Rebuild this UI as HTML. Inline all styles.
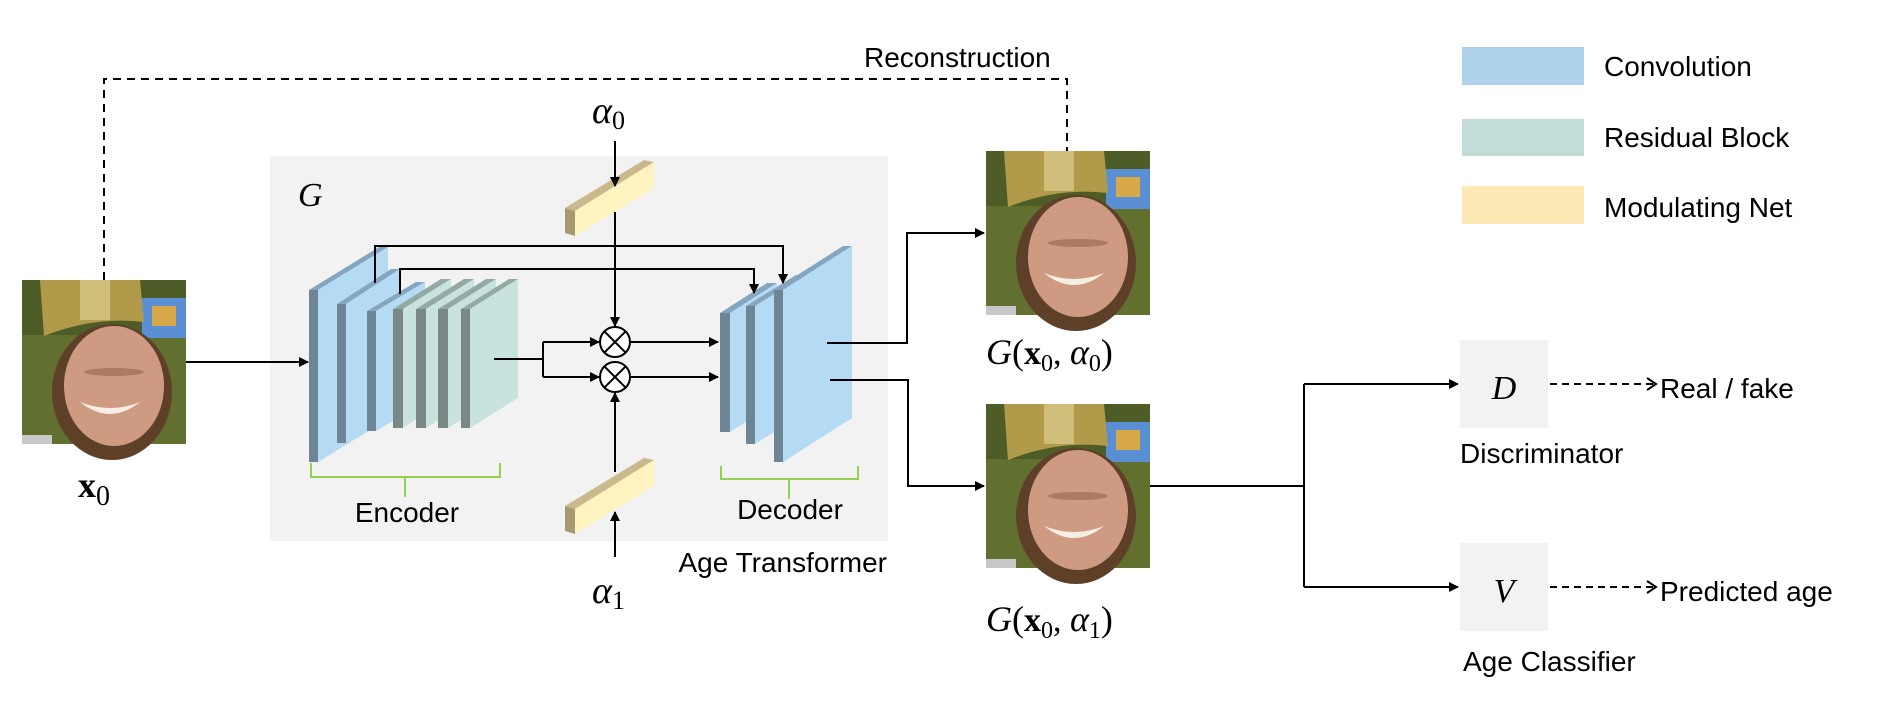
<!DOCTYPE html>
<html><head><meta charset="utf-8"><style>
html,body{margin:0;padding:0;background:#fff;}
svg{display:block;}
.t{font-family:"Liberation Sans",Arial,sans-serif;font-size:28px;fill:#000;}
.m{font-family:"Liberation Serif","DejaVu Serif",serif;font-style:italic;fill:#000;}
.mb{font-family:"Liberation Serif","DejaVu Serif",serif;font-weight:bold;fill:#000;}
.ms{font-family:"Liberation Serif","DejaVu Serif",serif;fill:#000;}
</style></head><body>
<svg width="1882" height="710" viewBox="0 0 1882 710" xmlns="http://www.w3.org/2000/svg">
<defs>
<marker id="ar" markerWidth="10" markerHeight="10" refX="9" refY="5" orient="auto" markerUnits="userSpaceOnUse">
<path d="M0,0 L10,5 L0,10 z" fill="#000"/></marker>
<g id="face">
<rect x="0" y="0" width="164" height="164" fill="#62702f"/>
<rect x="0" y="0" width="164" height="55" fill="#4e5d27"/>
<rect x="120" y="18" width="44" height="40" fill="#5a8fd3"/>
<rect x="130" y="26" width="24" height="20" fill="#d6a848"/>
<ellipse cx="90" cy="112" rx="60" ry="68" fill="#5e4029"/>
<ellipse cx="92" cy="106" rx="50" ry="60" fill="#cf9a82"/>
<path d="M18,0 L118,0 L122,42 Q72,36 22,56 z" fill="#b19a4a"/>
<rect x="58" y="0" width="30" height="40" fill="#e6dca2" opacity="0.55"/>
<path d="M58,122 Q88,146 118,122 Q88,134 58,122z" fill="#f4efe2"/>
<ellipse cx="92" cy="92" rx="30" ry="4" fill="#8a5a44" opacity="0.5"/>
<rect x="0" y="155" width="30" height="9" fill="#c8c8c8"/>
</g>
</defs>

<rect x="270" y="156" width="618" height="385" fill="#f2f2f2"/>

<path d="M104,280 V79 H1067 V151" fill="none" stroke="#000" stroke-width="2" stroke-dasharray="8,6"/>
<text class="t" x="864" y="67">Reconstruction</text>

<use href="#face" x="22" y="280"/>
<use href="#face" x="986" y="151"/>
<use href="#face" x="986" y="404"/>

<text x="78" y="497"><tspan class="mb" font-size="36">x</tspan><tspan class="ms" font-size="28" dy="8">0</tspan></text>

<line x1="186" y1="362" x2="308" y2="362" stroke="#000" stroke-width="2" marker-end="url(#ar)"/>

<text class="m" x="298" y="206" font-size="34">G</text>

<g>
<polygon points="309,290 379,247 388,247 318,290" fill="#86a5bf"/>
<polygon points="318,290 388,247 388,419 318,462" fill="#b5daf3"/>
<rect x="309" y="290" width="9" height="172" fill="#6e8595"/>

<polygon points="337,304 391,269 400,269 346,304" fill="#86a5bf"/>
<polygon points="346,304 400,269 400,408 346,443" fill="#b5daf3"/>
<rect x="337" y="304" width="9" height="139" fill="#6e8595"/>

<polygon points="367,311 416,282 425,282 376,311" fill="#86a5bf"/>
<polygon points="376,311 425,282 425,402 376,431" fill="#b5daf3"/>
<rect x="367" y="311" width="9" height="120" fill="#6e8595"/>

<polygon points="393,309 441,279 451,279 403,309" fill="#93aaa4"/>
<polygon points="403,309 451,279 451,398 403,428" fill="#c8e3dd"/>
<rect x="393" y="309" width="10" height="119" fill="#7a8886"/>

<polygon points="416,309 464,279 474,279 426,309" fill="#93aaa4"/>
<polygon points="426,309 474,279 474,398 426,428" fill="#c8e3dd"/>
<rect x="416" y="309" width="10" height="119" fill="#7a8886"/>

<polygon points="438,309 486,279 496,279 448,309" fill="#93aaa4"/>
<polygon points="448,309 496,279 496,398 448,428" fill="#c8e3dd"/>
<rect x="438" y="309" width="10" height="119" fill="#7a8886"/>

<polygon points="461,309 509,279 518,279 470,309" fill="#93aaa4"/>
<polygon points="470,309 518,279 518,398 470,428" fill="#c8e3dd"/>
<rect x="461" y="309" width="9" height="119" fill="#7a8886"/>
</g>

<g>
<polygon points="720,313 767,283 777,283 730,313" fill="#86a5bf"/>
<polygon points="730,313 777,283 777,402 730,432" fill="#b5daf3"/>
<rect x="720" y="313" width="10" height="119" fill="#6e8595"/>

<polygon points="746,306 796,275 805,275 755,306" fill="#86a5bf"/>
<polygon points="755,306 805,275 805,413 755,444" fill="#b5daf3"/>
<rect x="746" y="306" width="9" height="138" fill="#6e8595"/>

<polygon points="774,290 843,246 852,246 783,290" fill="#86a5bf"/>
<polygon points="783,290 852,246 852,418 783,462" fill="#b5daf3"/>
<rect x="774" y="290" width="9" height="172" fill="#6e8595"/>
</g>

<path d="M375,283 V246 H783 V283" fill="none" stroke="#000" stroke-width="2" marker-end="url(#ar)"/>
<path d="M400,294 V269 H754 V293" fill="none" stroke="#000" stroke-width="2" marker-end="url(#ar)"/>

<g>
<polygon points="565,208 644,160 654,162 575,211" fill="#c9b98c"/>
<polygon points="575,211 654,162 654,188 575,236" fill="#fff3c0"/>
<polygon points="565,208 575,211 575,236 565,233" fill="#a89a70"/>
</g>
<g transform="translate(0,298)">
<polygon points="565,208 644,160 654,162 575,211" fill="#c9b98c"/>
<polygon points="575,211 654,162 654,188 575,236" fill="#fff3c0"/>
<polygon points="565,208 575,211 575,236 565,233" fill="#a89a70"/>
</g>

<text x="592" y="123"><tspan class="m" font-size="38">α</tspan><tspan class="ms" font-size="26" dy="6">0</tspan></text>
<text x="592" y="603"><tspan class="m" font-size="38">α</tspan><tspan class="ms" font-size="26" dy="6">1</tspan></text>

<line x1="615" y1="141" x2="615" y2="186" stroke="#000" stroke-width="2" marker-end="url(#ar)"/>
<line x1="615" y1="212" x2="615" y2="326" stroke="#000" stroke-width="2" marker-end="url(#ar)"/>
<line x1="615" y1="557" x2="615" y2="512" stroke="#000" stroke-width="2" marker-end="url(#ar)"/>
<line x1="615" y1="472" x2="615" y2="393" stroke="#000" stroke-width="2" marker-end="url(#ar)"/>

<g stroke="#000" stroke-width="2" fill="#fff">
<circle cx="615" cy="342" r="15"/>
<circle cx="615" cy="377" r="15"/>
<line x1="604.4" y1="331.4" x2="625.6" y2="352.6"/><line x1="625.6" y1="331.4" x2="604.4" y2="352.6"/>
<line x1="604.4" y1="366.4" x2="625.6" y2="387.6"/><line x1="625.6" y1="366.4" x2="604.4" y2="387.6"/>
</g>
<path d="M494,359 H543" stroke="#000" stroke-width="2" fill="none"/>
<path d="M543,342 V377" stroke="#000" stroke-width="2" fill="none"/>
<line x1="543" y1="342" x2="599" y2="342" stroke="#000" stroke-width="2" marker-end="url(#ar)"/>
<line x1="543" y1="377" x2="599" y2="377" stroke="#000" stroke-width="2" marker-end="url(#ar)"/>
<line x1="630" y1="342" x2="718" y2="342" stroke="#000" stroke-width="2" marker-end="url(#ar)"/>
<line x1="630" y1="377" x2="718" y2="377" stroke="#000" stroke-width="2" marker-end="url(#ar)"/>

<path d="M311,463 V477 H500 V463 M405,477 V497" fill="none" stroke="#92d050" stroke-width="2"/>
<path d="M721,466 V479 H858 V466 M789,479 V499" fill="none" stroke="#92d050" stroke-width="2"/>
<text class="t" x="407" y="522" text-anchor="middle" font-size="26">Encoder</text>
<text class="t" x="790" y="519" text-anchor="middle" font-size="26">Decoder</text>
<text class="t" x="887" y="572" text-anchor="end" font-size="26">Age Transformer</text>

<path d="M827,343 H907 V233 H984" fill="none" stroke="#000" stroke-width="2" marker-end="url(#ar)"/>
<path d="M830,380 H908 V486 H984" fill="none" stroke="#000" stroke-width="2" marker-end="url(#ar)"/>

<text x="986" y="364"><tspan class="m" font-size="36">G</tspan><tspan class="ms" font-size="36">(</tspan><tspan class="mb" font-size="34">x</tspan><tspan class="ms" font-size="24" dy="7">0</tspan><tspan class="ms" font-size="34" dy="-7">, </tspan><tspan class="m" font-size="36">α</tspan><tspan class="ms" font-size="24" dy="7">0</tspan><tspan class="ms" font-size="36" dy="-7">)</tspan></text>
<text x="986" y="631"><tspan class="m" font-size="36">G</tspan><tspan class="ms" font-size="36">(</tspan><tspan class="mb" font-size="34">x</tspan><tspan class="ms" font-size="24" dy="7">0</tspan><tspan class="ms" font-size="34" dy="-7">, </tspan><tspan class="m" font-size="36">α</tspan><tspan class="ms" font-size="24" dy="7">1</tspan><tspan class="ms" font-size="36" dy="-7">)</tspan></text>

<path d="M1150,486 H1304" stroke="#000" stroke-width="2" fill="none"/>
<path d="M1304,384 V587" stroke="#000" stroke-width="2" fill="none"/>
<line x1="1304" y1="384" x2="1458" y2="384" stroke="#000" stroke-width="2" marker-end="url(#ar)"/>
<line x1="1304" y1="587" x2="1458" y2="587" stroke="#000" stroke-width="2" marker-end="url(#ar)"/>

<rect x="1460" y="340" width="88" height="88" fill="#f2f2f2"/>
<rect x="1460" y="543" width="88" height="88" fill="#f2f2f2"/>
<text class="m" x="1504" y="399" font-size="34" text-anchor="middle">D</text>
<text class="m" x="1504" y="602" font-size="34" text-anchor="middle">V</text>

<path d="M1550,384 H1655" fill="none" stroke="#000" stroke-width="2" stroke-dasharray="7,5"/>
<path d="M1647,378 L1656,384 L1647,390" fill="none" stroke="#000" stroke-width="2"/>
<path d="M1550,587 H1655" fill="none" stroke="#000" stroke-width="2" stroke-dasharray="7,5"/>
<path d="M1647,581 L1656,587 L1647,593" fill="none" stroke="#000" stroke-width="2"/>
<text class="t" x="1660" y="398" font-size="26">Real / fake</text>
<text class="t" x="1660" y="601" font-size="26">Predicted age</text>
<text class="t" x="1460" y="463" font-size="26">Discriminator</text>
<text class="t" x="1463" y="671" font-size="26">Age Classifier</text>

<rect x="1462" y="47" width="122" height="38" fill="#aed2ea"/>
<rect x="1462" y="119" width="122" height="37" fill="#c2ddd7"/>
<rect x="1462" y="186" width="122" height="38" fill="#fde9b6"/>
<text class="t" x="1604" y="76" font-size="26">Convolution</text>
<text class="t" x="1604" y="147" font-size="26">Residual Block</text>
<text class="t" x="1604" y="217" font-size="26">Modulating Net</text>
</svg>
</body></html>
